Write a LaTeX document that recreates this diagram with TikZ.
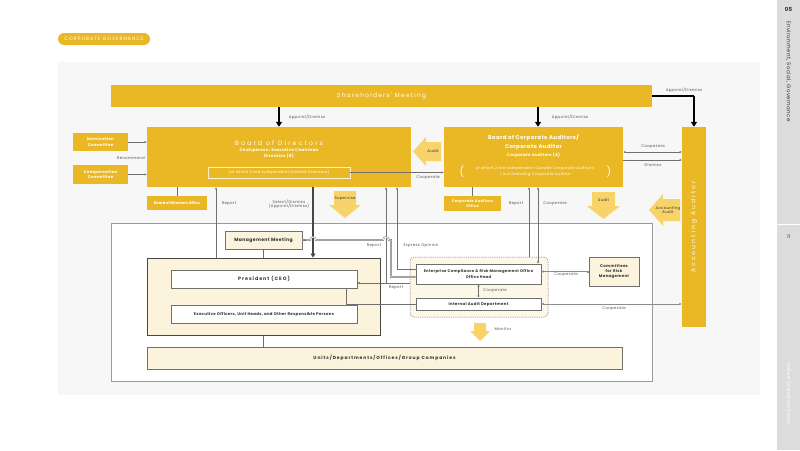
\documentclass[tikz,border=0pt]{standalone}
\usepackage{fontspec}
\setmainfont{Poppins}
\newfontfamily\fa[LetterSpace=8]{Poppins}
\newfontfamily\fb[LetterSpace=20]{Poppins}
\newfontfamily\fc[LetterSpace=35]{Poppins}
\usetikzlibrary{arrows.meta,calc}
\definecolor{gold}{HTML}{EAB825}
\definecolor{lgold}{HTML}{F8D36A}
\definecolor{cream}{HTML}{FBF3DC}
\definecolor{panel}{HTML}{F7F7F7}
\definecolor{side}{HTML}{DCDCDC}
\definecolor{txt}{HTML}{333333}
\definecolor{lbl}{HTML}{555555}
\definecolor{ln}{HTML}{707070}
\definecolor{dk}{HTML}{4A4540}
\tikzset{
  gbox/.style={fill=gold, draw=none, inner sep=0pt, text=white, align=center},
  wbox/.style={fill=white, draw=ln, line width=0.6pt, inner sep=0pt, text=txt, align=center},
  cbox/.style={fill=cream, draw=ln, line width=0.6pt, inner sep=0pt, text=txt, align=center},
  lab/.style={font=\fa\fontsize{3.9}{4.6}\selectfont, text=lbl, inner sep=0pt, align=center},
  wtxt/.style={text=white, inner sep=0pt, align=center},
  conn/.style={draw=ln, line width=0.5pt},
  tipe/.style={-{Latex[length=2.2pt,width=2.2pt]}},
  tipb/.style={{Latex[length=2.2pt,width=2.2pt]}-{Latex[length=2.2pt,width=2.2pt]}},
  bigarr/.style={line width=1.3pt, draw=black, -{Triangle[length=5pt,width=6pt]}},
  blk/.style={fill=lgold},
  blktxt/.style={font=\fa\fontsize{3.8}{4.4}\selectfont, text=txt, inner sep=0pt, align=center}
}
\begin{document}
\begin{tikzpicture}[x=1pt,y=-1pt]
\useasboundingbox (0,0) rectangle (800,450);
\fill[white] (0,0) rectangle (800,450);
% sidebar
\fill[side] (777,0) rectangle (800,450);
\draw[white, line width=0.8pt] (777,224) -- (800,224);
\node[inner sep=0pt, font=\bfseries\fontsize{5.5}{6}\selectfont, text=txt] (sec) at (788.5,9) {05};
\node[inner sep=0pt, rotate=-90, anchor=west, font=\fa\fontsize{5.4}{6}\selectfont, text=txt] (secname) at (788.5,21) {Environment, Social, Governance};
\node[inner sep=0pt, font=\fontsize{4.5}{5}\selectfont, text=txt] (page) at (788.5,237) {71};
\node[inner sep=0pt, rotate=-90, anchor=west, font=\fa\fontsize{5.4}{6}\selectfont, text=white] (story) at (788.5,362) {Value Creation Story};
% pill
\node[fill=gold, rounded corners=6pt, minimum width=92pt, minimum height=12pt, inner sep=0pt, text=white, font=\fb\fontsize{4.8}{5}\selectfont] (pill) at (104,39) {CORPORATE GOVERNANCE};
% panel
\fill[panel] (58,62) rectangle (760,395);
\draw[draw=ln!70, fill=white, line width=0.6pt] (111,223) rectangle (652,381);

% top level boxes
\node[gbox, minimum width=541pt, minimum height=22pt, font=\fb\fontsize{6}{7}\selectfont] (sh) at (381.5,96) {Shareholders' Meeting};
\node[gbox, minimum width=264pt, minimum height=60pt] (bod) at (279,157) {};
\node[wtxt, font=\fc\fontsize{6.2}{7}\selectfont] (bodt) at (279,143) {Board of Directors};
\node[wtxt, font=\fa\bfseries\fontsize{4}{5.8}\selectfont] (bods) at (279,153) {Chairperson: Executive Chairman\\Directors (8)};
\node[draw=white!80!gold, line width=0.5pt, minimum width=142pt, minimum height=11pt, inner sep=0pt, text=white, font=\fa\fontsize{3.8}{4.5}\selectfont] (bodin) at (279,172.5) {(of which 3 are Independent Outside Directors)};

\node[gbox, minimum width=179pt, minimum height=60pt] (bca) at (533.5,157) {};
\node[wtxt, font=\fa\bfseries\fontsize{5.4}{8.8}\selectfont] (bcat) at (533.5,142.5) {Board of Corporate Auditors/\\Corporate Auditor};
\node[wtxt, font=\fa\bfseries\fontsize{4}{5}\selectfont] (bcas) at (533.5,155) {Corporate Auditors (4)};
\node[wtxt, font=\fa\fontsize{3.8}{6}\selectfont] (bcain) at (535.5,172) {of which 2 are Independent Outside Corporate Auditors,\\1 is a Standing Corporate Auditor};
\node[wtxt, font=\fontsize{10}{10}\selectfont] (lpar) at (462,172) {(};
\node[wtxt, font=\fontsize{10}{10}\selectfont] (rpar) at (609,172) {)};

\node[gbox, minimum width=24pt, minimum height=200pt] (aa) at (694,227) {};
\node[wtxt, rotate=90, font=\fc\fontsize{6}{7}\selectfont] (aat) at (694,227) {Accounting Auditor};

\node[gbox, minimum width=55pt, minimum height=18pt, font=\fa\bfseries\fontsize{3.9}{5.8}\selectfont] (nom) at (100.5,142) {Nomination\\Committee};
\node[gbox, minimum width=55pt, minimum height=19pt, font=\fa\bfseries\fontsize{3.9}{5.8}\selectfont] (comp) at (100.5,174.5) {Compensation\\Committee};
\node[gbox, minimum width=60pt, minimum height=14pt, font=\bfseries\fontsize{3.7}{4.5}\selectfont] (bodo) at (177,203) {Board of Directors Office};
\node[gbox, minimum width=57pt, minimum height=15pt, font=\fa\bfseries\fontsize{3.7}{5}\selectfont] (bcao) at (472.5,203.5) {Corporate Auditors\\Office};

% executive side
\node[cbox, minimum width=77pt, minimum height=18pt, font=\fa\bfseries\fontsize{4.6}{5}\selectfont] (mm) at (263.5,240) {Management Meeting};
\node[fill=cream, draw=dk, line width=1pt, minimum width=233pt, minimum height=77pt, inner sep=0pt] (pres) at (263.5,296.5) {};
\node[wbox, minimum width=186pt, minimum height=18pt, font=\fb\bfseries\fontsize{4.8}{5}\selectfont] (ceo) at (264,279) {President (CEO)};
\node[wbox, minimum width=186pt, minimum height=18pt, font=\fa\bfseries\fontsize{3.9}{5}\selectfont] (exec) at (264,314) {Executive Officers, Unit Heads, and Other Responsible Persons};
\node[cbox, minimum width=475pt, minimum height=22pt, font=\fb\bfseries\fontsize{4.5}{5}\selectfont] (units) at (384.5,358) {Units/Departments/Offices/Group Companies};

% risk management group
\node[fill=cream!70, draw=ln, line width=0.5pt, dash pattern=on 1.2pt off 1pt, rounded corners=4pt, minimum width=138pt, minimum height=60pt, inner sep=0pt] (ermg) at (479,287) {};
\node[wbox, minimum width=125pt, minimum height=20pt, font=\fa\bfseries\fontsize{3.8}{5.4}\selectfont] (erm) at (478.5,274) {Enterprise Compliance \& Risk Management Office\\Office Head};
\node[wbox, minimum width=125pt, minimum height=12pt, font=\fa\bfseries\fontsize{3.9}{5}\selectfont] (iad) at (478.5,304) {Internal Audit Department};
\node[cbox, minimum width=50pt, minimum height=29pt, font=\fa\bfseries\fontsize{3.9}{5.4}\selectfont] (crm) at (614,271.5) {Committees\\for Risk\\Management};

% block arrows
\fill[blk] (334,191) -- (356,191) -- (356,205) -- (361,205) -- (345,218) -- (329,205) -- (334,205) -- cycle;
\node[blktxt] (supv) at (345,199) {Supervise};
\fill[blk] (592,192) -- (615,192) -- (615,206) -- (620,206) -- (603.5,219) -- (587,206) -- (592,206) -- cycle;
\node[blktxt] (auditd) at (603.5,200) {Audit};
\fill[blk] (413,151.5) -- (426,137) -- (426,142) -- (441,142) -- (441,161) -- (426,161) -- (426,166) -- cycle;
\node[blktxt] (auditl) at (433,151.5) {Audit};
\fill[blk] (649,210) -- (663,194) -- (663,199) -- (680,199) -- (680,221) -- (663,221) -- (663,226) -- cycle;
\node[blktxt] (acca) at (668,210) {Accounting\\Audit};
\fill[blk] (474,323) -- (486,323) -- (486,331) -- (490,331) -- (480,341) -- (470,331) -- (474,331) -- cycle;
\node[lab] (mon) at (503,329) {Monitor};

% connectors: shareholders
\draw[bigarr] (sh.south -| bod.north) -- (bod.north);
\draw[bigarr] ([xshift=4.5pt]bca.north |- sh.south) -- ([xshift=4.5pt]bca.north);
\draw[line width=1.3pt] (sh.east) -- (aa.north |- sh.east);
\draw[bigarr] (aa.north |- sh.east) -- (aa.north);
\node[lab] (l1) at (307,117) {Appoint/Dismiss};
\node[lab] (l2) at (570,117) {Appoint/Dismiss};
\node[lab] (l3) at (684,90) {Appoint/Dismiss};

% committees
\draw[conn, tipe] (nom.east) -- (nom.east -| bod.west);
\draw[conn, tipe] (comp.east) -- (comp.east -| bod.west);
\node[lab] (l4) at (131,158) {Recommend};

% BoD - BCA
\draw[conn, tipe] (bodin.east) -- (bodin.east -| bca.west);
\node[lab] (l5) at (428,178) {Cooperate};
\draw[conn, tipb] ([yshift=5pt]bca.east) -- ([yshift=5pt]bca.east -| aa.west);
\node[lab] (l6) at (653,147) {Cooperate};
\draw[conn, tipe] ([yshift=-3pt]bca.east) -- ([yshift=-3pt]bca.east -| aa.west);
\node[lab] (l7) at (653,165) {Dismiss};

% offices
\draw[conn] (bodo.north |- bod.south) -- (bodo.north);
\draw[conn] (bcao.north |- bca.south) -- (bcao.north);

% BoD - executive
\draw[conn, tipe] ([xshift=-47.5pt]pres.north) -- ([xshift=-47.5pt]pres.north |- bod.south);
\node[lab] (l8) at (229,204) {Report};
\draw[line width=1.3pt, draw=dk, -{Triangle[length=4pt,width=5pt]}] ([xshift=34pt]bod.south) -- ([xshift=34pt]bod.south |- pres.north);
\node[lab] (l9) at (289,204) {Select/Dismiss\\(Appoint/Dismiss)};
\draw[conn] (mm.south) -- (mm.south |- pres.north);
\draw[conn] (pres.south) -- (pres.south |- units.north);

% reports into BoD
\coordinate (rp) at (386,283);
\draw[conn, tipe] (ermg.west |- rp) -- (ceo.east |- rp);
\draw[conn, tipe] (rp) -- (rp |- bod.south);
\node[lab] (l10) at (374,246) {Report};
\node[lab] (l11) at (396,288) {Report};
\coordinate (eo) at (397,269);
\draw[conn, tipe] (erm.west |- eo) -- (eo) -- (eo |- bod.south);
\node[lab] (l12) at (421,246) {Express Opinion};

% management meeting line with hops
\coordinate (mmc) at (391,277);
\draw[draw=ln, line width=0.4pt, double=white, double distance=0.8pt] (mm.east) -- (310,240) arc (180:0:3pt) -- (383,240) arc (180:0:3pt) -- (391,240) -- (mmc) -- (erm.west |- mmc);
\draw[conn, {Latex[length=2.2pt,width=2.2pt]}-] (mm.east) -- ++(4,0);

% president to internal audit
\draw[conn] ([xshift=-11pt]ceo.south east) |- (iad.west);

% BCA to risk group
\draw[conn, tipe] ([xshift=-4.5pt]bca.south |- ermg.north) -- ([xshift=-4.5pt]bca.south);
\node[lab] (l13) at (516,204) {Report};
\draw[conn, tipb] ([xshift=4.5pt]bca.south) -- ([xshift=4.5pt]bca.south |- erm.north);
\node[lab] (l14) at (555,204) {Cooperate};

% risk group connections
\draw[conn, tipb] (erm.south) -- (iad.north);
\node[lab, anchor=west] (l15) at (483,291) {Cooperate};
\draw[draw=ln!80, line width=1pt, {Latex[length=2.5pt,width=2.5pt]}-{Square[length=2pt,width=2pt]}] (crm.west -| erm.east) -- (crm.west);
\node[lab] (l16) at (566,275) {Cooperate};
\draw[draw=ln!80, line width=1pt, {Latex[length=2.5pt,width=2.5pt]}-{Latex[length=2.5pt,width=2.5pt]}] (iad.east) -- (iad.east -| aa.west);
\node[lab] (l17) at (614,309) {Cooperate};
\end{tikzpicture}
\end{document}
